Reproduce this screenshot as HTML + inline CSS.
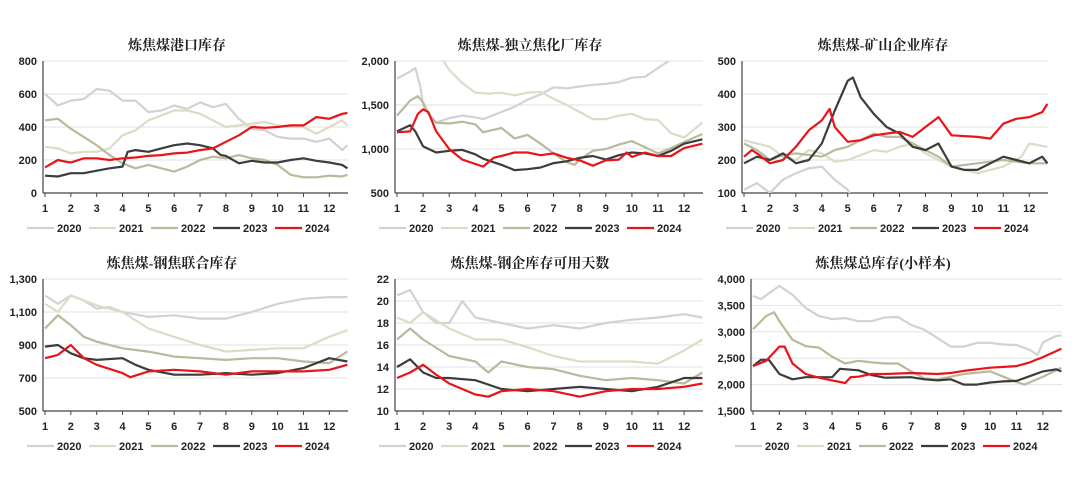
<!DOCTYPE html><html><head><meta charset="utf-8"><style>
body{margin:0;background:#fff;width:1080px;height:477px;overflow:hidden}
svg{display:block}
text{font-family:"Liberation Sans",sans-serif;font-weight:bold;font-size:11px;fill:#222}
.t{font-family:"Liberation Serif","Noto Serif CJK SC",serif;font-size:14px;font-weight:bold}
</style></head><body>
<svg id="s" width="1080" height="477" xmlns="http://www.w3.org/2000/svg"></svg>
<script>
const C={2020:'#d2d2d2',2021:'#dcdcc6',2022:'#b9b99b',2023:'#3c3c3c',2024:'#e8141a'};
const P=[
{ax:43,end:348,yt:61,yb:193,mn:0,mx:800,tk:[0,200,400,600,800],f:v=>v,title:'炼焦煤港口库存',tx:177,ty:50,my:212,ly:232,
d:{2020:[[1,600],[1.5,530],[2,560],[2.5,570],[3,630],[3.5,620],[4,560],[4.5,560],[5,490],[5.5,500],[6,530],[6.5,510],[7,550],[7.5,520],[8,540],[8.5,450],[9,390],[9.5,380],[10,340],[10.5,330],[11,330],[11.5,310],[12,330],[12.5,260],[12.7,290]],
2021:[[1,280],[1.5,270],[2,240],[2.5,250],[3,250],[3.5,270],[4,350],[4.5,380],[5,440],[5.5,470],[6,500],[6.5,500],[7,480],[7.5,440],[8,400],[8.5,410],[9,420],[9.5,430],[10,410],[10.5,400],[11,400],[11.5,360],[12,400],[12.5,440],[12.7,410]],
2022:[[1,440],[1.5,450],[2,390],[2.5,340],[3,290],[3.5,230],[4,180],[4.5,150],[5,170],[5.5,150],[6,130],[6.5,160],[7,200],[7.5,220],[8,210],[8.5,230],[9,210],[9.5,200],[10,170],[10.5,110],[11,95],[11.5,95],[12,105],[12.5,100],[12.7,110]],
2023:[[1,105],[1.5,100],[2,120],[2.5,120],[3,135],[3.5,150],[4,160],[4.2,250],[4.5,260],[5,250],[5.5,270],[6,290],[6.5,300],[7,290],[7.5,270],[7.8,230],[8,225],[8.5,180],[9,195],[9.5,185],[10,185],[10.5,200],[11,210],[11.5,195],[12,185],[12.5,170],[12.7,150]],
2024:[[1,155],[1.5,200],[1.8,190],[2,185],[2.5,210],[3,210],[3.5,200],[4,210],[4.5,215],[5,225],[5.5,230],[6,240],[6.5,245],[7,260],[7.5,270],[8,310],[8.5,350],[9,400],[9.5,395],[10,400],[10.5,410],[11,410],[11.5,460],[12,450],[12.5,480],[12.7,485]]}},
{ax:395,end:703,yt:61,yb:193,mn:500,mx:2000,tk:[500,1000,1500,2000],f:v=>v.toLocaleString('en-US'),title:'炼焦煤-独立焦化厂库存',tx:530,ty:50,my:212,ly:232,
d:{2020:[[1,1800],[1.5,1880],[1.7,1920],[1.9,1700],[2,1500],[2.2,1400],[2.5,1300],[3,1350],[3.5,1380],[4,1360],[4.3,1340],[5,1420],[5.5,1480],[6,1560],[6.5,1620],[7,1700],[7.5,1690],[8,1710],[8.5,1730],[9,1740],[9.5,1760],[10,1810],[10.5,1820],[11,1920],[11.5,2020]],
2021:[[2.6,2080],[3,1900],[3.5,1750],[4,1640],[4.5,1630],[5,1640],[5.5,1610],[6,1640],[6.5,1650],[7,1570],[7.5,1500],[8,1420],[8.5,1340],[9,1340],[9.5,1380],[10,1400],[10.5,1340],[11,1330],[11.5,1180],[12,1130],[12.7,1300]],
2022:[[1,1380],[1.5,1550],[1.8,1600],[2,1530],[2.2,1400],[2.5,1300],[3,1290],[3.5,1310],[4,1280],[4.3,1190],[5,1240],[5.5,1120],[6,1160],[6.5,1060],[7,950],[7.5,850],[7.8,820],[8,880],[8.5,980],[9,1000],[9.5,1050],[10,1090],[10.5,1020],[11,950],[11.5,1010],[12,1080],[12.7,1170]],
2023:[[1,1200],[1.5,1270],[1.7,1200],[2,1030],[2.5,960],[3,980],[3.5,990],[4,940],[4.3,890],[5,820],[5.5,760],[6,770],[6.5,790],[7,840],[7.5,860],[8,900],[8.5,920],[9,880],[9.5,930],[10,960],[10.5,950],[11,920],[11.5,980],[12,1060],[12.7,1110]],
2024:[[1,1190],[1.5,1200],[1.8,1400],[2,1450],[2.2,1420],[2.5,1200],[3,1000],[3.5,880],[4,830],[4.3,800],[4.7,900],[5,920],[5.5,960],[6,960],[6.5,930],[7,950],[7.5,900],[8,870],[8.5,810],[9,870],[9.5,880],[9.8,960],[10,910],[10.5,960],[11,920],[11.5,920],[12,1010],[12.7,1060]]}},
{ax:742,end:1048,yt:61,yb:193,mn:100,mx:500,tk:[100,200,300,400,500],f:v=>v,title:'炼焦煤-矿山企业库存',tx:883,ty:50,my:212,ly:232,
d:{2020:[[1,110],[1.5,130],[2,100],[2.5,140],[3,160],[3.5,175],[4,180],[4.5,140],[5,110],[5.1,95]],
2021:[[1,260],[1.5,250],[2,240],[2.5,210],[3,200],[3.5,230],[4,220],[4.5,195],[5,200],[5.5,215],[6,230],[6.5,225],[7,240],[7.5,250],[8,220],[8.5,200],[9,180],[9.5,170],[10,160],[10.5,170],[11,180],[11.7,210],[12,250],[12.7,240]],
2022:[[1,250],[1.5,230],[2,200],[2.5,215],[3,220],[4,210],[4.5,230],[5,240],[5.5,260],[6,280],[6.5,270],[7,270],[7.5,250],[8,230],[8.5,210],[9,180],[10,190],[11,200],[12,190],[12.7,190]],
2023:[[1,190],[1.5,210],[2,200],[2.5,220],[3,190],[3.5,200],[4,250],[4.5,350],[5,440],[5.2,450],[5.5,390],[6,340],[6.5,300],[7,280],[7.5,240],[8,230],[8.5,250],[9,180],[9.5,170],[10,170],[10.5,190],[11,210],[11.5,200],[12,190],[12.5,210],[12.7,190]],
2024:[[1,210],[1.3,230],[1.5,220],[2,190],[2.5,200],[3,240],[3.5,290],[4,320],[4.3,355],[4.5,300],[5,255],[5.5,260],[6,275],[7,285],[7.5,270],[8,300],[8.5,330],[9,275],[10,270],[10.5,265],[11,310],[11.5,325],[12,330],[12.5,345],[12.7,370]]}},
{ax:43,end:348,yt:279,yb:411,mn:500,mx:1300,tk:[500,700,900,1100,1300],f:v=>v.toLocaleString('en-US'),title:'炼焦煤-钢焦联合库存',tx:172,ty:268,my:430,ly:450,
d:{2020:[[1,1200],[1.5,1150],[2,1200],[2.5,1170],[3,1120],[3.5,1130],[4,1100],[5,1070],[6,1080],[7,1060],[8,1060],[9,1100],[10,1150],[11,1180],[12,1190],[12.7,1190]],
2021:[[1,1150],[1.5,1100],[2,1200],[2.5,1170],[3,1140],[4,1100],[5,1000],[6,950],[7,900],[8,860],[9,870],[10,880],[11,880],[12,950],[12.7,990]],
2022:[[1,1000],[1.5,1080],[2,1020],[2.5,950],[3,920],[4,880],[5,860],[6,830],[7,820],[8,810],[9,820],[10,820],[11,800],[12,790],[12.7,860]],
2023:[[1,890],[1.5,900],[2,850],[2.5,820],[3,810],[4,820],[4.5,780],[5,750],[6,720],[7,720],[8,730],[9,720],[10,730],[11,760],[12,820],[12.7,800]],
2024:[[1,820],[1.5,840],[2,900],[2.5,820],[3,780],[4,730],[4.3,705],[5,740],[6,750],[7,740],[8,720],[9,740],[10,740],[11,740],[12,750],[12.7,780]]}},
{ax:395,end:703,yt:279,yb:411,mn:10,mx:22,tk:[10,12,14,16,18,20,22],f:v=>v,title:'炼焦煤-钢企库存可用天数',tx:530,ty:268,my:430,ly:450,
d:{2020:[[1,20.5],[1.5,21],[2,19],[2.5,18],[3,18],[3.5,20],[4,18.5],[5,18],[6,17.5],[7,17.8],[8,17.5],[9,18],[10,18.3],[11,18.5],[12,18.8],[12.7,18.5]],
2021:[[1,18.5],[1.5,18],[2,19],[3,17.5],[4,16.5],[5,16.5],[6,15.8],[7,15],[8,14.5],[9,14.5],[10,14.5],[11,14.3],[12,15.5],[12.7,16.5]],
2022:[[1,16.5],[1.5,17.5],[2,16.5],[3,15],[4,14.5],[4.5,13.5],[5,14.5],[6,14],[7,13.8],[8,13.2],[9,12.8],[10,13],[11,12.8],[12,12.5],[12.7,13.5]],
2023:[[1,14],[1.5,14.7],[2,13.5],[2.5,13],[3,13],[4,12.8],[5,12],[6,11.8],[7,12],[8,12.2],[9,12],[10,11.8],[11,12.2],[12,13],[12.7,13]],
2024:[[1,13],[1.5,13.5],[2,14.2],[2.5,13.3],[3,12.5],[4,11.5],[4.5,11.3],[5,11.8],[6,12],[7,11.8],[8,11.3],[9,11.8],[10,12],[11,12],[12,12.2],[12.7,12.5]]}},
{ax:751,end:1062,yt:279,yb:411,mn:1500,mx:4000,tk:[1500,2000,2500,3000,3500,4000],f:v=>v.toLocaleString('en-US'),title:'炼焦煤总库存(小样本)',tx:883,ty:268,my:430,ly:450,
d:{2020:[[1,3680],[1.3,3620],[1.8,3800],[2,3870],[2.5,3700],[3,3450],[3.5,3300],[4,3240],[4.5,3260],[5,3200],[5.5,3200],[6,3270],[6.5,3280],[7,3130],[7.5,3040],[8,2880],[8.5,2720],[9,2720],[9.5,2790],[10,2790],[10.5,2760],[11,2750],[11.5,2660],[11.8,2560],[12,2800],[12.5,2920],[12.7,2930]],
2022:[[1,3050],[1.5,3300],[1.8,3370],[2,3200],[2.5,2850],[3,2730],[3.5,2700],[4,2530],[4.5,2400],[5,2450],[5.5,2420],[6,2400],[6.5,2400],[7,2250],[7.5,2120],[8,2100],[8.5,2150],[9,2200],[10,2250],[10.5,2150],[11,2050],[11.3,2000],[12,2150],[12.7,2320]],
2023:[[1,2350],[1.3,2470],[1.6,2470],[2,2200],[2.5,2100],[3,2140],[4,2140],[4.3,2300],[5,2270],[5.5,2180],[6,2130],[7,2140],[7.5,2100],[8,2080],[8.5,2100],[9,2000],[9.5,2000],[10,2040],[10.5,2060],[11,2070],[11.5,2160],[12,2250],[12.5,2290],[12.7,2250]],
2024:[[1,2350],[1.5,2450],[2,2720],[2.2,2720],[2.5,2400],[3,2200],[3.5,2130],[4,2080],[4.5,2030],[4.7,2140],[5,2150],[5.5,2200],[6,2200],[7,2220],[8,2200],[8.5,2220],[9,2260],[10,2320],[11,2350],[11.5,2420],[12,2520],[12.7,2680]]}}
];
let h='';
P.forEach((p,i)=>{
 const sp=(p.end-p.ax)/11.8;
 const X=m=>p.ax+2+(m-1)*sp, Y=v=>p.yb-(v-p.mn)/(p.mx-p.mn)*(p.yb-p.yt);
 h+=`<clipPath id="c${i}"><rect x="${p.ax}" y="${p.yt}" width="${p.end-p.ax}" height="${p.yb-p.yt}"/></clipPath>`;
 h+=`<text class="t" x="${p.tx}" y="${p.ty}" text-anchor="middle">${p.title}</text>`;
 p.tk.forEach(v=>{const y=Y(v);
  if(v!=p.mn)h+=`<line x1="${p.ax}" x2="${p.end}" y1="${y}" y2="${y}" stroke="#e2e2e2" stroke-width="1"/>`;
  h+=`<text x="${p.ax-6}" y="${y+4}" text-anchor="end">${p.f(v)}</text>`;});
 for(let m=1;m<=12;m++){h+=`<text x="${X(m)}" y="${p.my}" text-anchor="middle">${m}</text>`;
  h+=`<line x1="${X(m)}" x2="${X(m)}" y1="${p.yb}" y2="${p.yb+4}" stroke="#444"/>`;}
 h+=`<line x1="${p.ax}" x2="${p.ax}" y1="${p.yt}" y2="${p.yb}" stroke="#444" stroke-width="1.2"/><line x1="${p.ax}" x2="${p.end}" y1="${p.yb}" y2="${p.yb}" stroke="#444" stroke-width="1.2"/>`;
 h+=`<g clip-path="url(#c${i})">`;
 [2020,2021,2022,2023,2024].forEach(yr=>{const d=p.d[yr];if(!d)return;
  h+=`<polyline fill="none" stroke="${C[yr]}" stroke-width="2.2" stroke-linejoin="round" points="${d.map(q=>X(q[0]).toFixed(1)+','+Y(q[1]).toFixed(1)).join(' ')}"/>`;});
 h+='</g>';
 [2020,2021,2022,2023,2024].forEach((yr,k)=>{const x0=p.ax-16+k*62;
  h+=`<line x1="${x0}" x2="${x0+27}" y1="${p.ly-4}" y2="${p.ly-4}" stroke="${C[yr]}" stroke-width="2.2"/><text x="${x0+30}" y="${p.ly}">${yr}</text>`;});
});
document.getElementById('s').innerHTML=h;
</script></body></html>
